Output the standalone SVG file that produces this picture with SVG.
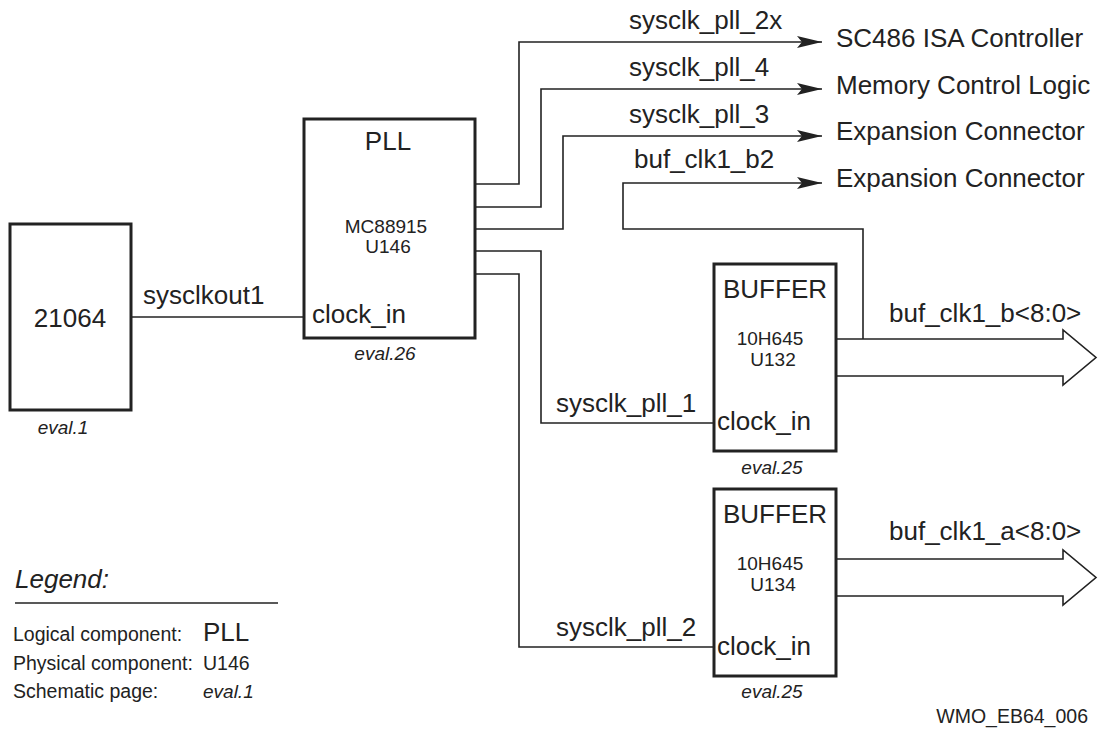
<svg xmlns="http://www.w3.org/2000/svg" width="1099" height="736" viewBox="0 0 1099 736">
<defs>
<style>
text{font-family:"Liberation Sans",Arial,Helvetica,sans-serif;fill:#222}
.lg{font-size:26px}
.sm{font-size:19.5px}
.in{font-size:19px}
.it{font-size:19px;font-style:italic}
.mid{text-anchor:middle}
.box{fill:#fff;stroke:#222;stroke-width:3}
.wire{fill:none;stroke:#222;stroke-width:1.6}
.bus{fill:#fff;stroke:#222;stroke-width:1.6;stroke-linejoin:miter}
</style>
<marker id="ah" markerUnits="userSpaceOnUse" markerWidth="26" markerHeight="14" refX="25" refY="6" orient="auto">
<path d="M25,6 L0,0 L5,6 L0,12 Z" fill="#222"/>
</marker>
</defs>
<rect width="1099" height="736" fill="#fff"/>

<g id="connectors">
<path class="wire" d="M131,317 H304"/>
<path class="wire" d="M475,184 H519 V42 H822" marker-end="url(#ah)"/>
<path class="wire" d="M475,207 H541 V89 H822" marker-end="url(#ah)"/>
<path class="wire" d="M475,229 H563 V136 H822" marker-end="url(#ah)"/>
<path class="wire" d="M863,339 V229 H623 V183 H822" marker-end="url(#ah)"/>
<path class="wire" d="M475,251 H541 V423 H714"/>
<path class="wire" d="M475,274 H519 V647 H714"/>
<path class="bus" d="M836,339 H1063 V330 L1096,357.5 L1063,385 V376 H836"/>
<path class="bus" d="M836,559 H1063 V550 L1096,577.5 L1063,605 V596 H836"/>
<text class="lg" x="143" y="304">sysclkout1</text>
<text class="lg" x="629" y="29">sysclk_pll_2x</text>
<text class="lg" x="629" y="76">sysclk_pll_4</text>
<text class="lg" x="629" y="123">sysclk_pll_3</text>
<text class="lg" x="634" y="168">buf_clk1_b2</text>
<text class="lg" x="556" y="412">sysclk_pll_1</text>
<text class="lg" x="556" y="636">sysclk_pll_2</text>
<text class="lg" x="889" y="322">buf_clk1_b&lt;8:0&gt;</text>
<text class="lg" x="889" y="540">buf_clk1_a&lt;8:0&gt;</text>
</g>

<g id="dest-isa"><text class="lg" x="836" y="47">SC486 ISA Controller</text></g>
<g id="dest-mem"><text class="lg" x="836" y="94">Memory Control Logic</text></g>
<g id="dest-exp1"><text class="lg" x="836" y="140">Expansion Connector</text></g>
<g id="dest-exp2"><text class="lg" x="836" y="187">Expansion Connector</text></g>

<g id="cpu">
<rect class="box" x="10" y="224" width="121" height="186"/>
<text class="lg mid" x="70" y="327">21064</text>
<text class="it mid" x="63" y="434">eval.1</text>
</g>

<g id="pll">
<rect class="box" x="304" y="119" width="171" height="219"/>
<text class="lg mid" x="388" y="150">PLL</text>
<text class="in mid" x="386" y="233">MC88915</text>
<text class="in mid" x="388" y="253">U146</text>
<text class="lg" x="312" y="323">clock_in</text>
<text class="it mid" x="385" y="360">eval.26</text>
</g>

<g id="buffer1">
<rect class="box" x="714" y="264" width="122" height="187"/>
<text class="lg mid" x="775" y="298">BUFFER</text>
<text class="in mid" x="770" y="345">10H645</text>
<text class="in mid" x="773" y="366">U132</text>
<text class="lg" x="717" y="430">clock_in</text>
<text class="it mid" x="772" y="474">eval.25</text>
</g>

<g id="buffer2">
<rect class="box" x="714" y="489" width="122" height="187"/>
<text class="lg mid" x="775" y="523">BUFFER</text>
<text class="in mid" x="770" y="570">10H645</text>
<text class="in mid" x="773" y="591">U134</text>
<text class="lg" x="717" y="655">clock_in</text>
<text class="it mid" x="772" y="698">eval.25</text>
</g>

<g id="legend">
<text class="lg" x="15" y="588" font-style="italic">Legend:</text>
<path class="wire" d="M15,603 H278"/>
<text class="sm" x="13" y="641">Logical component:</text>
<text class="lg" x="203" y="641">PLL</text>
<text class="sm" x="13" y="670">Physical component:</text>
<text class="sm" x="203" y="670">U146</text>
<text class="sm" x="13" y="698">Schematic page:</text>
<text class="it" x="203" y="698">eval.1</text>
</g>

<g id="figure-id"><text class="sm" x="1088" y="723" text-anchor="end">WMO_EB64_006</text></g>
</svg>
